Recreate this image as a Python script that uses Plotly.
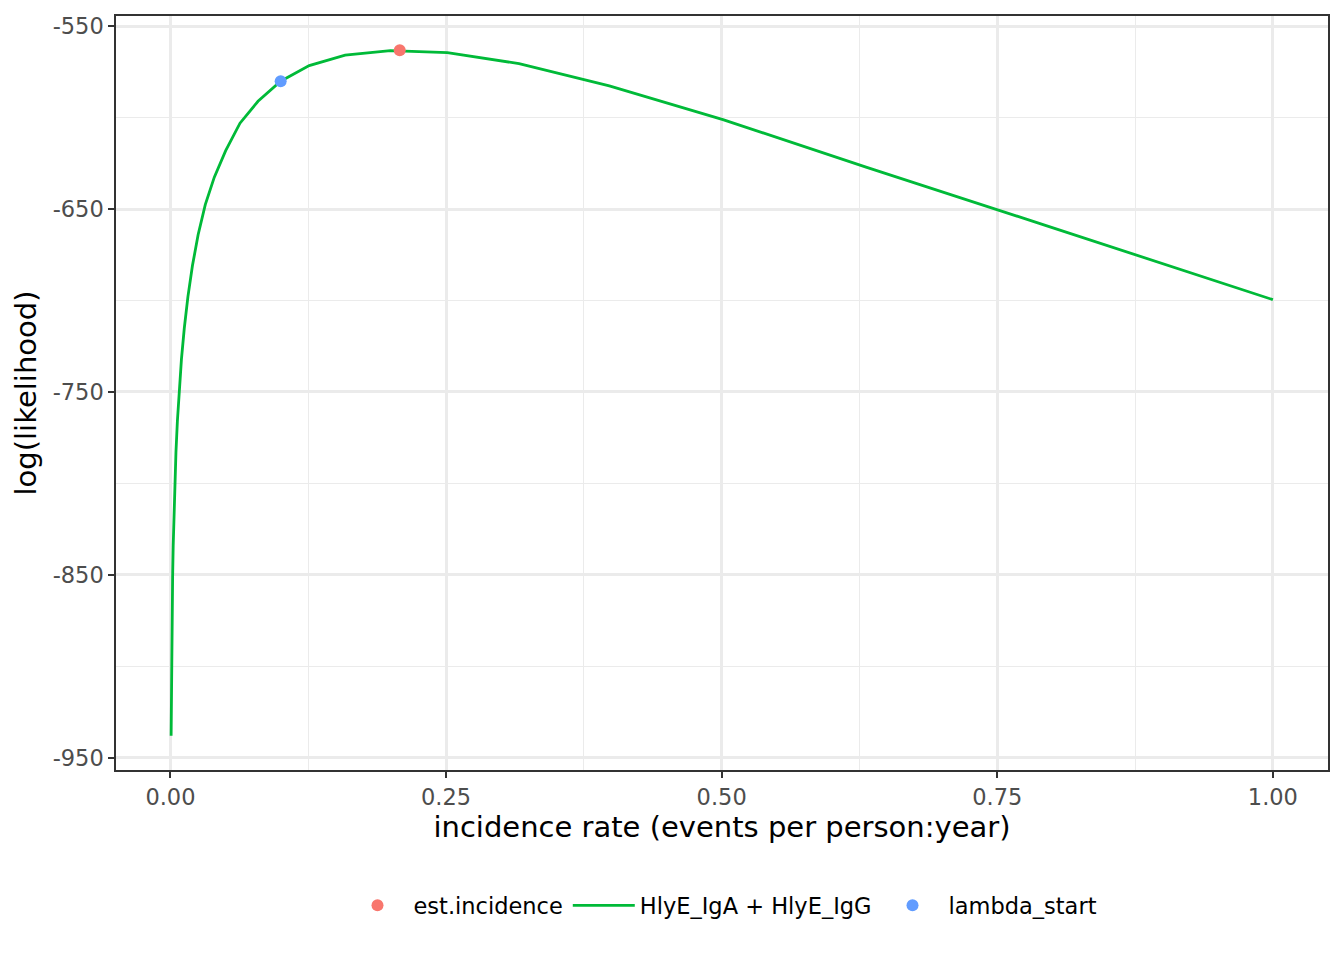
import numpy as np
import plotly.graph_objects as go

# log-likelihood profile, lambda on a log10 grid
log10_lambda = [-3.2, -3.1, -3.0, -2.9, -2.8, -2.7, -2.6, -2.5, -2.4, -2.3, -2.2,
                -2.1, -2.0, -1.9, -1.8, -1.7, -1.6, -1.5, -1.4, -1.3, -1.2, -1.1,
                -1.0, -0.9, -0.8, -0.7, -0.6, -0.5, -0.4, -0.3, -0.2, -0.1, 0.0]
loglik = [-938, -920, -902, -885, -868, -851, -834, -817, -800, -783, -766,
          -749, -732, -715, -698, -681, -664, -647.5, -632.5, -618, -603, -591,
          -580, -571.5, -565.8, -563.3, -564.4, -570.4, -582.6, -601, -627, -659, -699.5]
incidence = [10 ** v for v in log10_lambda]

est_incidence = [0.208]
est_loglik = [-563.1]
lambda_start = [0.1]
start_loglik = [-580]

series_name = "HlyE_IgA + HlyE_IgG"
x_ticks = [0.0, 0.25, 0.5, 0.75, 1.0]
y_ticks = [-950, -850, -750, -650, -550]

font = "DejaVu Sans"
grid = "#EBEBEB"

fig = go.Figure()
fig.add_trace(go.Scatter(x=incidence, y=loglik, mode="lines", name=series_name,
                         line=dict(color="#00BA38", width=2.8), legendrank=2))
fig.add_trace(go.Scatter(x=est_incidence, y=est_loglik, mode="markers", name="est.incidence",
                         marker=dict(color="#F8766D", size=12), legendrank=1))
fig.add_trace(go.Scatter(x=lambda_start, y=start_loglik, mode="markers", name="lambda_start",
                         marker=dict(color="#619CFF", size=12), legendrank=3))

x_lo, x_hi = min(incidence), max(incidence)
xpad = (x_hi - 0) * 0.05
y_lo, y_hi = min(loglik), max(est_loglik + loglik)
ypad = (y_hi - y_lo) * 0.05

axis_common = dict(
    showline=True, mirror=True, linecolor="#333333", linewidth=1.5,
    ticks="outside", ticklen=6, tickwidth=1.5, tickcolor="#333333",
    showgrid=True, gridcolor=grid, gridwidth=2.6, zeroline=False,
    tickfont=dict(family=font, size=22.5, color="#4D4D4D"),
)

fig.update_xaxes(
    range=[x_lo - xpad, x_hi + xpad],
    tickvals=x_ticks, ticktext=["%.2f" % v for v in x_ticks],
    minor=dict(tickvals=[(a + b) / 2 for a, b in zip(x_ticks[:-1], x_ticks[1:])],
               showgrid=True, gridcolor=grid, gridwidth=1.3, ticks=""),
    title=dict(text="incidence rate (events per person:year)", standoff=6,
               font=dict(family=font, size=29, color="black")),
    **axis_common,
)
fig.update_yaxes(
    range=[y_lo - ypad, y_hi + ypad],
    tickvals=y_ticks, ticktext=[str(v) for v in y_ticks],
    minor=dict(tickvals=[(a + b) / 2 for a, b in zip(y_ticks[:-1], y_ticks[1:])],
               showgrid=True, gridcolor=grid, gridwidth=1.3, ticks=""),
    title=dict(text="log(likelihood)", standoff=8,
               font=dict(family=font, size=29, color="black")),
    **axis_common,
)

# page body has an 8px margin, so the figure is sized to fit the window
fig.update_layout(
    width=1336, height=952,
    paper_bgcolor="white", plot_bgcolor="white",
    margin=dict(l=108, r=16, t=5, b=190),
    font=dict(family=font),
    showlegend=True,
    legend=dict(orientation="h", x=0.5, xanchor="center", y=-0.18, yanchor="middle",
                font=dict(family=font, size=22.5, color="black"),
                itemwidth=62, bgcolor="rgba(0,0,0,0)"),
)

fig.write_html("out.html")
